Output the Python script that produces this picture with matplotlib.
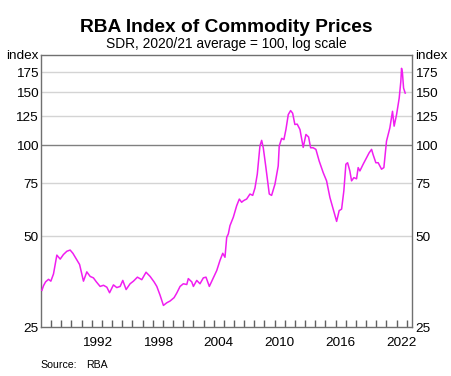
import numpy as np
import matplotlib.pyplot as plt
from matplotlib.ticker import FixedLocator, NullLocator

plt.rcParams['font.family'] = ['Liberation Sans', 'DejaVu Sans']

# decimal year and index level
years = [1987.09, 1987.25, 1987.45, 1987.74, 1987.97, 1988.23, 1988.56, 1988.89,
         1989.21, 1989.55, 1989.87, 1990.14, 1990.53, 1990.80, 1991.18, 1991.51,
         1991.84, 1992.16, 1992.45, 1992.82, 1993.15, 1993.48, 1993.75, 1994.13,
         1994.46, 1994.79, 1995.05, 1995.38, 1995.77, 1996.10, 1996.49, 1996.92,
         1997.34, 1997.74, 1998.13, 1998.40, 1998.72, 1999.05, 1999.38, 1999.70,
         2000.10, 2000.36, 2000.69, 2001.01, 2001.35, 2001.50, 2001.84, 2002.00,
         2002.33, 2002.65, 2002.98, 2003.24, 2003.57, 2003.96, 2004.30, 2004.62,
         2004.89, 2005.11, 2005.28, 2005.44, 2005.60, 2005.93, 2006.26, 2006.52,
         2006.75, 2006.91, 2007.08, 2007.24, 2007.57, 2007.84, 2008.06, 2008.29,
         2008.55, 2008.72, 2008.88, 2009.14, 2009.47, 2009.70, 2010.03, 2010.35,
         2010.45, 2010.69, 2010.91, 2011.11, 2011.34, 2011.57, 2011.77, 2011.99,
         2012.22, 2012.49, 2012.81, 2013.08, 2013.34, 2013.54, 2013.79, 2014.06,
         2014.38, 2014.78, 2015.11, 2015.44, 2015.76, 2016.10, 2016.35, 2016.59,
         2016.81, 2017.01, 2017.18, 2017.40, 2017.57, 2017.80, 2018.06, 2018.22,
         2018.39, 2018.71, 2019.05, 2019.30, 2019.54, 2019.69, 2019.96, 2020.19,
         2020.52, 2020.75, 2021.01, 2021.34, 2021.60, 2021.76, 2022.00, 2022.26,
         2022.42, 2022.49, 2022.58, 2022.69, 2022.85]
index = [33.1, 34.3, 35.3, 36.0, 35.5, 37.5, 43.3, 42.0,
         43.5, 44.6, 45.0, 43.9, 41.7, 40.3, 35.5, 38.1,
         36.8, 36.4, 35.3, 34.1, 34.4, 33.9, 32.5, 34.5,
         33.8, 34.1, 35.7, 33.3, 34.8, 35.5, 36.6, 35.9,
         38.0, 36.8, 35.3, 34.1, 31.9, 29.5, 30.1, 30.5,
         31.3, 32.4, 34.1, 34.8, 34.6, 36.2, 35.3, 34.1,
         35.7, 34.8, 36.4, 36.6, 34.1, 36.4, 38.5, 41.6,
         43.9, 42.6, 49.6, 50.9, 54.2, 57.8, 63.1, 66.4,
         64.8, 65.5, 66.0, 66.4, 69.0, 68.3, 72.2, 80.3,
         99.5, 103.9, 98.2, 84.4, 69.0, 68.3, 74.4, 85.5,
         99.5, 105.5, 104.5, 112.9, 126.5, 130.4, 127.8, 117.3,
         117.6, 112.9, 98.5, 108.7, 106.6, 98.2, 98.2, 97.0,
         88.8, 81.2, 76.3, 67.2, 61.5, 56.0, 60.8, 61.5,
         70.7, 86.6, 87.6, 82.3, 76.3, 78.2, 77.5, 84.4,
         82.3, 86.6, 91.0, 94.5, 97.0, 93.2, 87.6, 87.6,
         83.4, 84.4, 103.3, 114.3, 129.7, 115.8, 126.5, 143.5,
         163.0, 180.0, 173.5, 154.8, 149.0]

ytick_vals = [25, 50, 75, 100, 125, 150, 175, 200]
ytick_labels = ['25', '50', '75', '100', '125', '150', '175', 'index']
year_labels = [1992, 1998, 2004, 2010, 2016, 2022]

fig = plt.figure(figsize=(4.52, 3.76), dpi=100)
ax = fig.add_axes([0.0907, 0.130, 0.8215, 0.725])

for v in [50, 75, 125, 150, 175]:
    ax.axhline(v, color='#d4d4d4', lw=1, zorder=1)
ax.axhline(100, color='#808080', lw=1, zorder=1)

ax.plot(years, index, color='#f01ef0', lw=1.1, zorder=3)

ax.set_yscale('log')
ax.set_ylim(25, 200)
ax.yaxis.set_major_locator(FixedLocator(ytick_vals))
ax.yaxis.set_minor_locator(NullLocator())
ax.set_yticklabels(ytick_labels)
ax.tick_params(axis='y', which='major', length=0, pad=2, labelsize=9.7,
               labelleft=True, labelright=True)

ax.set_xlim(1987.0, 2023.55)
ax.xaxis.set_major_locator(FixedLocator(list(range(1988, 2024))))
ax.xaxis.set_minor_locator(FixedLocator([y + 0.5 for y in year_labels]))
ax.set_xticklabels([str(y) for y in year_labels], minor=True)
ax.tick_params(axis='x', which='major', direction='in', length=5, width=1,
               color='#606060', labelbottom=False)
ax.tick_params(axis='x', which='minor', length=0, pad=7, labelsize=9.7)

for s in ax.spines.values():
    s.set_color('#707070')
    s.set_linewidth(1)

fig.text(0.5, 0.9157, 'RBA Index of Commodity Prices', ha='center',
         va='baseline', fontsize=13.75, fontweight='bold')
fig.text(0.5, 0.8715, 'SDR, 2020/21 average = 100, log scale', ha='center',
         va='baseline', fontsize=9.9)
fig.text(0.0885, 0.0205, 'Source:', fontsize=7.6, va='baseline')
fig.text(0.19, 0.0205, 'RBA', fontsize=7.6, va='baseline')

fig.savefig('out.png', dpi=100)
